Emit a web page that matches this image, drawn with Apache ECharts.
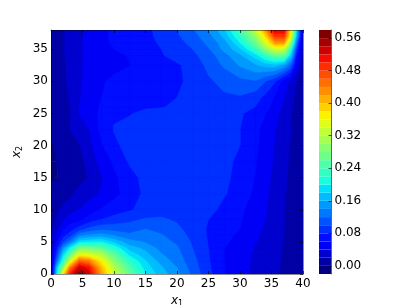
<!DOCTYPE html>
<html><head><meta charset="utf-8">
<style>html,body{margin:0;padding:0;background:#fff}#c{width:407px;height:305px}</style>
<script src="https://cdn.jsdelivr.net/npm/echarts@6/dist/echarts.min.js"></script>
</head><body><div id="c"></div>
<script>
const xCoords=[0,1,2,3,4.5,6,8,10,12.5,15,17.5,20,22.5,25,27.5,30,32.5,34,35.5,37,38,39,40];
const yCoords=[0,1,2,3,4,5,6,7,8.5,10,12.5,15,17.5,20,22.5,25,26,27.5,30,32.5,34,35,36,37,38];
const y00=[.003,.20,.38,.50,.57,.53,.42,.33,.26,.20,.17,.145,.115,.086,.061,.05,.033,.028,.023,.016,.011,.006,.003];
const y01=[.010,.18,.30,.44,.535,.51,.40,.32,.245,.19,.163,.14,.11,.084,.06,.05,.034,.029,.024,.017,.011,.006,.003];
const y02=[.014,.13,.23,.34,.46,.44,.37,.29,.222,.182,.152,.132,.107,.082,.06,.05,.035,.03,.025,.017,.012,.006,.003];
const y03=[.016,.10,.19,.26,.36,.35,.32,.26,.195,.167,.142,.127,.103,.081,.06,.051,.036,.031,.025,.018,.012,.006,.003];
const y04=[.017,.08,.15,.20,.28,.275,.26,.22,.17,.155,.133,.123,.10,.08,.06,.052,.038,.032,.026,.019,.012,.007,.003];
const y05=[.017,.06,.10,.13,.19,.195,.20,.175,.148,.138,.127,.117,.097,.079,.063,.054,.041,.033,.026,.019,.013,.007,.003];
const y06=[.016,.045,.075,.09,.135,.145,.15,.14,.125,.126,.122,.11,.094,.078,.065,.057,.043,.035,.027,.02,.013,.007,.003];
const y07=[.014,.033,.058,.07,.09,.105,.115,.112,.11,.12,.114,.105,.09,.078,.066,.06,.045,.037,.028,.02,.014,.007,.003];
const y08=[.011,.022,.038,.05,.055,.068,.08,.088,.096,.102,.103,.097,.088,.08,.068,.062,.048,.04,.029,.02,.014,.008,.003];
const y10=[.010,.018,.025,.031,.04,.049,.062,.07,.078,.087,.091,.093,.093,.088,.073,.064,.05,.042,.03,.021,.014,.008,.003];
const y12=[.005,.009,.012,.016,.026,.033,.042,.055,.068,.085,.09,.092,.092,.09,.082,.07,.056,.044,.032,.022,.015,.008,.003];
const y15=[-.003,-.001,.002,.006,.014,.021,.038,.056,.073,.086,.09,.09,.09,.088,.084,.074,.059,.047,.035,.024,.016,.009,.004];
const y17=[-.004,.001,.005,.008,.014,.027,.047,.063,.083,.09,.09,.09,.09,.088,.085,.076,.061,.05,.037,.026,.017,.009,.004];
const y20=[-.002,.003,.008,.012,.019,.033,.058,.076,.087,.09,.09,.09,.09,.09,.085,.08,.063,.053,.039,.028,.019,.01,.004];
const y22=[.004,.008,.013,.02,.028,.039,.066,.081,.088,.09,.09,.09,.09,.09,.086,.08,.064,.054,.041,.03,.021,.012,.005];
const y25=[.006,.01,.015,.019,.041,.053,.063,.078,.0785,.087,.09,.09,.092,.093,.09,.083,.07,.061,.047,.032,.022,.012,.006];
const y26=[.007,.01,.015,.02,.04,.052,.062,.069,.072,.077,.079,.083,.09,.094,.094,.092,.079,.068,.052,.036,.024,.013,.006];
const y27=[.008,.01,.015,.022,.038,.05,.06,.066,.07,.073,.075,.08,.088,.095,.097,.098,.088,.075,.058,.04,.027,.015,.006];
const y30=[.010,.012,.017,.024,.037,.047,.058,.064,.07,.074,.076,.078,.083,.097,.106,.114,.118,.101,.083,.05,.038,.02,.008];
const y32=[.010,.014,.018,.024,.037,.045,.052,.055,.0595,.068,.072,.077,.088,.105,.123,.142,.157,.166,.17,.15,.115,.05,.01];
const y34=[.011,.015,.019,.026,.037,.045,.052,.056,.061,.07,.078,.088,.095,.11,.133,.155,.19,.225,.26,.26,.18,.07,.012];
const y35=[.011,.015,.019,.026,.037,.045,.054,.06,.067,.074,.08,.09,.10,.118,.145,.175,.23,.29,.34,.33,.23,.09,.015];
const y36=[.012,.015,.019,.026,.037,.045,.055,.063,.069,.075,.082,.093,.106,.125,.15,.20,.27,.34,.42,.42,.30,.12,.018];
const y37=[.012,.015,.019,.026,.037,.045,.055,.064,.07,.076,.084,.097,.112,.132,.165,.22,.30,.38,.48,.48,.36,.16,.018];
const y38=[.012,.015,.019,.026,.037,.045,.055,.064,.07,.076,.085,.10,.118,.14,.175,.24,.33,.42,.53,.52,.38,.18,.02];
const valueRows=[y00,y01,y02,y03,y04,y05,y06,y07,y08,y10,y12,y15,y17,y20,y22,y25,y26,y27,y30,y32,y34,y35,y36,y37,y38];
const levels=[-.02,0,.02,.04,.06,.08,.10,.12,.14,.16,.18,.20,.22,.24,.26,.28,.30,.32,.34,.36,.38,.40,.42,.44,.46,.48,.50,.52,.54,.56,.58];
const xTicks=[0,5,10,15,20,25,30,35,40];
const yTicks=[0,5,10,15,20,25,30,35];
const barTicks=[0,.08,.16,.24,.32,.40,.48,.56];

function jet(t){
  const p=(a)=>{for(let i=1;i<a.length;i++){if(t<=a[i][0]){const f=(t-a[i-1][0])/(a[i][0]-a[i-1][0]||1);return a[i-1][1]+f*(a[i][1]-a[i-1][1]);}}return a[a.length-1][1];};
  const r=p([[0,0],[.35,0],[.66,1],[.89,1],[1,.5]]);
  const g=p([[0,0],[.125,0],[.375,1],[.64,1],[.91,0],[1,0]]);
  const b=p([[0,.5],[.11,1],[.34,1],[.65,0],[1,0]]);
  return 'rgb('+Math.round(r*255)+','+Math.round(g*255)+','+Math.round(b*255)+')';
}
const bandColors=levels.slice(0,-1).map((l,i)=>jet(i/(levels.length-2)));

// keep the part of a cell where value >= level
function clip(pts,level){
  const out=[];
  for(let i=0;i<pts.length;i++){
    const a=pts[i],b=pts[(i+1)%pts.length];
    const ia=a[2]>=level,ib=b[2]>=level;
    if(ia)out.push(a);
    if(ia!==ib){const f=(level-a[2])/(b[2]-a[2]);out.push([a[0]+f*(b[0]-a[0]),a[1]+f*(b[1]-a[1]),level]);}
  }
  return out;
}
const layers=levels.slice(0,-1).map((l,k)=>[k]);
function renderLayer(params,api){
  const k=api.value(0),children=[],col=bandColors[k];
  for(let j=0;j<yCoords.length-1;j++)for(let i=0;i<xCoords.length-1;i++){
    const q=[[xCoords[i],yCoords[j],valueRows[j][i]],[xCoords[i+1],yCoords[j],valueRows[j][i+1]],
             [xCoords[i+1],yCoords[j+1],valueRows[j+1][i+1]],[xCoords[i],yCoords[j+1],valueRows[j+1][i]]];
    const poly=k===0?q:clip(q,levels[k]);
    if(poly.length<3)continue;
    children.push({type:'polygon',shape:{points:poly.map(p=>api.coord([p[0],p[1]]))},
      style:{fill:col,stroke:col,lineWidth:0.5}});
  }
  return {type:'group',children};
}
const bands=levels.slice(0,-1).map((l,i)=>[l,levels[i+1],i]);
function renderBand(params,api){
  const a=api.coord([0,api.value(0)]),b=api.coord([1,api.value(1)]);
  return {type:'rect',shape:{x:a[0],y:b[1],width:b[0]-a[0],height:a[1]-b[1]},
    style:{fill:bandColors[api.value(2)]}};
}
const font='"DejaVu Sans"';
const edge='rgba(0,0,0,0.45)';
const frame={show:true,onZero:false,lineStyle:{color:edge,width:1}};
const tickIn=(vals)=>({show:true,inside:true,length:3,customValues:vals,lineStyle:{color:'rgba(0,0,0,0.65)',width:1}});
const lab=(vals,fmt,m,pad)=>({show:true,margin:m,customValues:vals,color:'#000',fontFamily:font,fontSize:12,formatter:fmt,padding:pad||0});
const nameRich={i:{fontFamily:font,fontStyle:'italic',fontSize:12,color:'#000'},s:{fontFamily:font,fontSize:8,color:'#000',verticalAlign:'bottom',padding:[6,0,0,0]}};
const chart=echarts.init(document.getElementById('c'),null,{renderer:'canvas'});
chart.setOption({
  animation:false,backgroundColor:'#fff',
  grid:[{left:51,top:30,width:252,height:244,outerBoundsMode:'none'},{left:319,top:30,width:12.5,height:244,outerBoundsMode:'none'}],
  xAxis:[
    {type:'value',gridIndex:0,position:'bottom',min:0,max:40,splitLine:{show:false},axisLine:frame,z:5,
     axisTick:tickIn(xTicks),axisLabel:lab(xTicks,v=>String(v),4),
     name:'{i|x}{s|1}',nameLocation:'middle',nameGap:19,nameTextStyle:{rich:nameRich}},
    {type:'value',gridIndex:0,position:'top',min:0,max:40,splitLine:{show:false},axisLine:frame,z:5,
     axisTick:tickIn(xTicks),axisLabel:{show:false}},
    {type:'value',gridIndex:1,min:0,max:1,show:false}
  ],
  yAxis:[
    {type:'value',gridIndex:0,position:'left',min:0,max:38,splitLine:{show:false},axisLine:frame,z:5,
     axisTick:tickIn(yTicks),axisLabel:lab(yTicks,v=>String(v),3,[2,0,0,0]),
     name:'{i|x}{s|2}',nameLocation:'middle',nameGap:27,nameRotate:90,nameMoveOverlap:false,nameTextStyle:{rich:nameRich}},
    {type:'value',gridIndex:0,position:'right',min:0,max:38,splitLine:{show:false},axisLine:frame,z:5,
     axisTick:tickIn(yTicks),axisLabel:{show:false}},
    {type:'value',gridIndex:1,position:'right',min:-.02,max:.58,splitLine:{show:false},z:5,
     axisLine:{show:true,onZero:false,lineStyle:{color:'#666',width:1}},
     axisTick:tickIn(barTicks),axisLabel:lab(barTicks,v=>v.toFixed(2),3,[2,0,0,0])}
  ],
  series:[
    {type:'custom',xAxisIndex:0,yAxisIndex:0,data:layers,renderItem:renderLayer,clip:true,silent:true,z:1,encode:{tooltip:0}},
    {type:'custom',xAxisIndex:2,yAxisIndex:2,data:bands,renderItem:renderBand,clip:true,silent:true,z:1,
     dimensions:['lo','hi','idx'],encode:{y:[0,1]}}
  ]
});
</script></body></html>
